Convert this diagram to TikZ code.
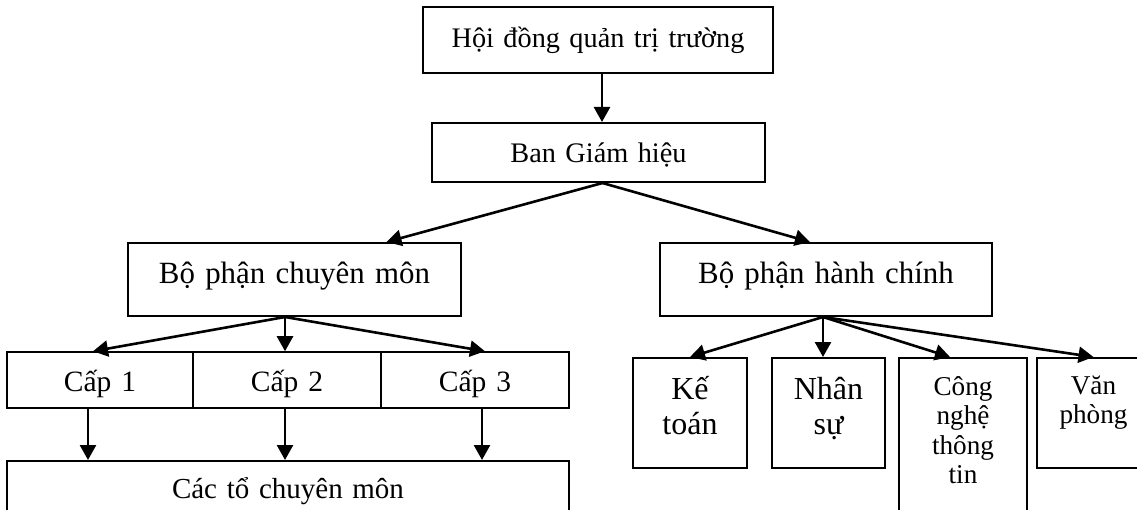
\documentclass[tikz,border=0pt]{standalone}
\usepackage{fontspec}
\setmainfont{Liberation Serif}
\usetikzlibrary{arrows.meta}

\begin{document}
\begin{tikzpicture}[x=1pt, y=-1pt,
    hop/.style={draw, line width=2pt, inner sep=0pt, align=center,
        font=\fontsize{29}{34}\selectfont},
    muiten/.style={-{Triangle[length=15pt, width=16pt]}, line width=2.6pt}]
    \useasboundingbox (0,0) rectangle (1137,510);
    \clip (0,0) rectangle (1137,510);

    % Hội đồng và Ban Giám hiệu
    \node[hop, text width=350pt, text height=40.7pt, text depth=25.3pt, font=\fontsize{28.3}{34}\selectfont] (hdqt) at (598,40) {Hội đồng quản trị trường};
    \node[hop, text width=333pt, text height=39.7pt, text depth=19.3pt, font=\fontsize{28.3}{34}\selectfont] (bgh) at (598.5,152.5) {Ban Giám hiệu};
    \draw[muiten] ([xshift=4pt]hdqt.south) -- ([xshift=4pt]hdqt.south |- bgh.north);

    % Hai bộ phận
    \node[hop, text width=333pt, text height=41pt, text depth=32pt, font=\fontsize{30.9}{36}\selectfont] (bpcm) at (294.5,279.5) {Bộ phận chuyên môn};
    \node[hop, text width=332pt, text height=41pt, text depth=32pt, font=\fontsize{30.9}{36}\selectfont] (bphc) at (826,279.5) {Bộ phận hành chính};
    \draw[muiten] ([xshift=4pt]bgh.south) -- ([xshift=92pt]bpcm.north);
    \draw[muiten] ([xshift=4pt]bgh.south) -- ([xshift=-16pt]bphc.north);

    % Chuyên môn: các cấp
    \node[hop, text width=186pt, text height=39pt, text depth=16.5pt, font=\fontsize{29.5}{34}\selectfont] (cap1) at (100,380) {Cấp 1};
    \node[hop, text width=188pt, text height=39pt, text depth=16.5pt, font=\fontsize{29.5}{34}\selectfont] (cap2) at (287,380) {Cấp 2};
    \node[hop, text width=188pt, text height=39pt, text depth=16.5pt, font=\fontsize{29.5}{34}\selectfont] (cap3) at (475,380) {Cấp 3};
    \node[hop, text width=562pt, text height=37pt, text depth=40pt] (cacto) at (288,499.5) {Các tổ chuyên môn};
    \draw[muiten] ([xshift=-9.5pt]bpcm.south) -- ([xshift=-7pt]cap1.north);
    \draw[muiten] ([xshift=-9.5pt]bpcm.south) -- ([xshift=-2pt]cap2.north);
    \draw[muiten] ([xshift=-9.5pt]bpcm.south) -- ([xshift=10pt]cap3.north);
    \draw[muiten] ([xshift=-12pt]cap1.south) -- ([xshift=-12pt]cap1.south |- cacto.north);
    \draw[muiten] ([xshift=-2pt]cap2.south) -- ([xshift=-2pt]cap2.south |- cacto.north);
    \draw[muiten] ([xshift=7pt]cap3.south) -- ([xshift=7pt]cap3.south |- cacto.north);

    % Hành chính
    \node[hop, text width=114pt, text height=41pt, text depth=69pt, font=\fontsize{32}{35.3}\selectfont] (ketoan) at (690,413) {Kế\\toán};
    \node[hop, text width=113pt, text height=41pt, text depth=69pt, font=\fontsize{32}{35.3}\selectfont] (nhansu) at (828.5,413) {Nhân\\sự};
    \node[hop, text width=128pt, text height=37.7pt, text depth=149pt, font=\fontsize{27.2}{29.2}\selectfont] (cntt) at (963,451.35) {Công\\nghệ\\thông\\tin};
    \node[hop, text width=113pt, text height=36.3pt, text depth=73.7pt, font=\fontsize{27.2}{29}\selectfont] (vanphong) at (1093.5,413) {Văn\\phòng};
    \draw[muiten] ([xshift=-3pt]bphc.south) -- (ketoan.north);
    \draw[muiten] ([xshift=-3pt]bphc.south) -- ([xshift=-3pt]bphc.south |- nhansu.north);
    \draw[muiten] ([xshift=-3pt]bphc.south) -- ([xshift=-13pt]cntt.north);
    \draw[muiten] ([xshift=-3pt]bphc.south) -- (vanphong.north);
\end{tikzpicture}
\end{document}
